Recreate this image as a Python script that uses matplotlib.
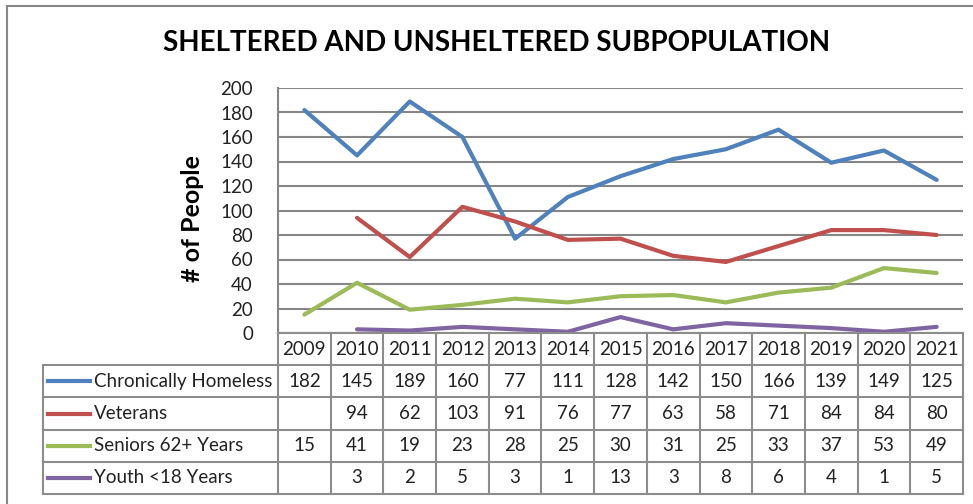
import numpy as np
import matplotlib
matplotlib.use('Agg')
import matplotlib.pyplot as plt
from matplotlib.lines import Line2D
from matplotlib.patches import Rectangle

plt.rcParams['font.family'] = ['Lato', 'DejaVu Sans']

# data
years = ['2009', '2010', '2011', '2012', '2013', '2014', '2015',
         '2016', '2017', '2018', '2019', '2020', '2021']
chronic = [182, 145, 189, 160, 77, 111, 128, 142, 150, 166, 139, 149, 125]
veterans = [None, 94, 62, 103, 91, 76, 77, 63, 58, 71, 84, 84, 80]
seniors = [15, 41, 19, 23, 28, 25, 30, 31, 25, 33, 37, 53, 49]
youth = [None, 3, 2, 5, 3, 1, 13, 3, 8, 6, 4, 1, 5]
names = ['Chronically Homeless', 'Veterans', 'Seniors 62+ Years', 'Youth <18 Years']
colors = ['#4F81BD', '#C0504D', '#9BBB59', '#8064A2']
series = [chronic, veterans, seniors, youth]

W, H = 973, 504
fig = plt.figure(figsize=(W / 100, H / 100), dpi=100)


def box(x0, y0, x1, y1):
    # pixel box (top-left origin) -> figure fraction
    return [x0 / W, 1 - y1 / H, (x1 - x0) / W, (y1 - y0) / H]


# outer frame
fig.patches.append(Rectangle((7 / W, -0.1), 1.2, 1 - 6 / H + 0.1, transform=fig.transFigure,
                             fill=False, edgecolor='#868686', linewidth=1.5))

px_left, px_right, px_top, px_zero = 278, 963, 88, 333
ax = fig.add_axes(box(px_left, px_top, px_right, px_zero))
x = np.arange(len(years))
for s, c in zip(series, colors):
    y = np.array([np.nan if v is None else v for v in s], dtype=float)
    ax.plot(x, y, color=c, linewidth=3, solid_capstyle='round', zorder=3)
ax.set_xlim(-0.5, len(years) - 0.5)
ax.set_ylim(0, 200)
ax.set_yticks(range(0, 201, 20))
ax.set_xticks([])
ax.yaxis.grid(True, color='#868686', linewidth=1.5)
ax.set_axisbelow(True)
for sp in ['top', 'right', 'bottom']:
    ax.spines[sp].set_visible(False)
ax.spines['left'].set_color('#868686')
ax.spines['left'].set_linewidth(1.5)
ax.tick_params(axis='y', length=0, pad=18, labelsize=13.5, colors='#222222')
fig.text(193 / W, 1 - 219 / H, '# of People', rotation=90, ha='center', va='center',
         fontsize=18, fontweight='bold')
fig.text(497 / W, 1 - 43 / H, 'SHELTERED AND UNSHELTERED SUBPOPULATION',
         ha='center', va='center', fontsize=20, fontweight='bold')

# data table
tab_left, tab_bottom = 43, 494
unit = (px_right - px_left) / len(years)
tx0 = -0.5 - (px_left - tab_left) / unit
tab = fig.add_axes(box(tab_left, px_zero, px_right, tab_bottom))
tab.set_xlim(tx0, len(years) - 0.5)
tab.set_ylim(5, 0)
tab.axis('off')
lc = '#8c8c8c'
# horizontal lines
tab.plot([-0.5, len(years) - 0.5], [0, 0], color=lc, lw=1.5, clip_on=False)
for r in range(1, 6):
    tab.plot([tx0, len(years) - 0.5], [r, r], color=lc, lw=1.5, clip_on=False)
# vertical lines
tab.plot([tx0, tx0], [1, 5], color=lc, lw=1.5, clip_on=False)
for i in range(len(years) + 1):
    tab.plot([i - 0.5, i - 0.5], [0, 5], color=lc, lw=1.5, clip_on=False)
for i, yr in enumerate(years):
    tab.text(i, 0.5, yr, ha='center', va='center', fontsize=13.5, color='#222222')
key_w = 42 / unit
for r, (nm, s, c) in enumerate(zip(names, series, colors), start=1):
    k0 = tx0 + 5 / unit
    tab.add_line(Line2D([k0, k0 + key_w], [r + 0.5, r + 0.5], color=c, lw=3))
    tab.text(k0 + key_w + 4 / unit, r + 0.5, nm, ha='left', va='center', fontsize=13.5,
             color='#222222')
    for i, v in enumerate(s):
        if v is not None:
            tab.text(i, r + 0.5, str(v), ha='center', va='center', fontsize=13.5,
                     color='#222222')

fig.savefig('out.png', dpi=100)
